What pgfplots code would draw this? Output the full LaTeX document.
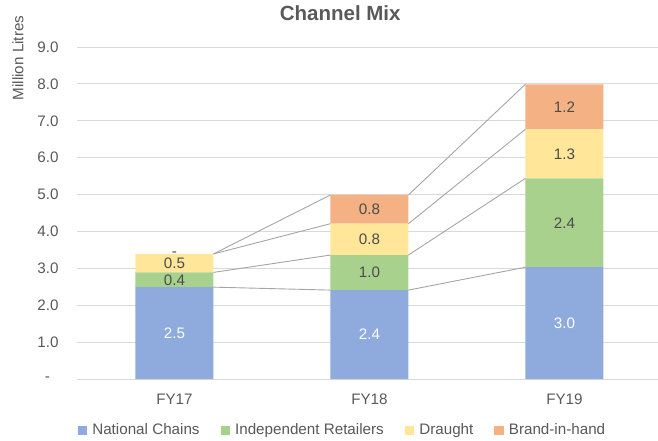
\documentclass[border=0pt]{standalone}
\usepackage{pgfplots}
\pgfplotsset{compat=1.18}
\usepackage{fontspec}
\setmainfont{Liberation Sans}
\definecolor{txt}{HTML}{595959}
\definecolor{gridc}{HTML}{D9D9D9}
\definecolor{cNat}{HTML}{8FAADC}
\definecolor{cInd}{HTML}{A9D18E}
\definecolor{cDra}{HTML}{FFE699}
\definecolor{cBih}{HTML}{F4B183}
\definecolor{lnc}{HTML}{A5A5A5}
\newcommand{\fs}{\fontsize{15.2bp}{17bp}\selectfont}
\pgfplotsset{
  base/.style={
    scale only axis, width=581bp, height=332bp,
    xmin=-0.5, xmax=2.48, ymin=0, ymax=9,
  }
}
\begin{document}
\begin{tikzpicture}
\begin{axis}[base,
  ybar stacked, bar width=0.4,
  axis line style={draw=none},
  major tick length=0pt,
  ymajorgrids, grid style={gridc, line width=0.9bp},
  ytick={0,1,...,9},
  yticklabels={{-\hphantom{0}},1.0,2.0,3.0,4.0,5.0,6.0,7.0,8.0,9.0},
  yticklabel style={anchor=east, xshift=-15bp, font=\fs, text=txt},
  xtick={0,1,2},
  xticklabels={FY17,FY18,FY19},
  xticklabel style={anchor=base, yshift=-25bp, font=\fs, text=txt},
  title={Channel Mix},
  title style={at={(0.453,1)}, anchor=base, yshift=21bp, font=\bfseries\fontsize{20.5bp}{23bp}\selectfont, text=txt},
  ylabel={Million Litres},
  every axis y label/.style={at={(rel axis cs:0,0.967)}, xshift=-59bp, rotate=90, anchor=center, font=\fs, text=txt},
  legend columns=4,
  legend cell align=left,
  legend style={draw=none, at={(0.457,0)}, anchor=center, yshift=-51bp, font=\fs, text=txt,
    /tikz/every even column/.append style={column sep=19bp},
    /tikz/every odd column/.append style={column sep=3bp}},
  legend image code/.code={\fill[#1,draw=none] (0bp,-4.5bp) rectangle (9.5bp,4.5bp);},
]
\addplot[fill=cNat, draw=none] coordinates {(0,2.49) (1,2.41) (2,3.03)};
\addplot[fill=cInd, draw=none] coordinates {(0,0.40) (1,0.95) (2,2.41)};
\addplot[fill=cDra, draw=none] coordinates {(0,0.50) (1,0.85) (2,1.33)};
\addplot[fill=cBih, draw=none] coordinates {(0,0.00) (1,0.78) (2,1.22)};
\legend{National Chains, Independent Retailers, Draught, Brand-in-hand}
\end{axis}
\begin{axis}[base, hide axis, clip=false]
\addplot[lnc, line width=0.9bp] coordinates {(0.2,2.49) (0.8,2.41)};
\addplot[lnc, line width=0.9bp] coordinates {(1.2,2.41) (1.8,3.03)};
\addplot[lnc, line width=0.9bp] coordinates {(0.2,2.89) (0.8,3.36)};
\addplot[lnc, line width=0.9bp] coordinates {(1.2,3.36) (1.8,5.44)};
\addplot[lnc, line width=0.9bp] coordinates {(0.2,3.39) (0.8,4.21)};
\addplot[lnc, line width=0.9bp] coordinates {(1.2,4.21) (1.8,6.77)};
\addplot[lnc, line width=0.9bp] coordinates {(0.2,3.39) (0.8,4.99)};
\addplot[lnc, line width=0.9bp] coordinates {(1.2,4.99) (1.8,7.99)};
\addplot[draw=none, mark=none, nodes near coords, point meta=explicit symbolic,
  every node near coord/.append style={anchor=center, font=\fs, text=white}]
  coordinates {(0,1.245) [2.5] (1,1.205) [2.4] (2,1.515) [3.0]};
\addplot[draw=none, mark=none, nodes near coords, point meta=explicit symbolic,
  every node near coord/.append style={anchor=center, font=\fs, text=txt!85!black}]
  coordinates {(0,2.69) [0.4] (0,3.14) [0.5] (0,3.37) [-]
               (1,2.885) [1.0] (1,3.785) [0.8] (1,4.60) [0.8]
               (2,4.235) [2.4] (2,6.105) [1.3] (2,7.38) [1.2]};
\end{axis}
\pgfresetboundingbox
\path[use as bounding box] ([xshift=-77bp,yshift=-62bp]current axis.south west) rectangle ([yshift=47bp]current axis.north east);
\end{tikzpicture}
\end{document}
